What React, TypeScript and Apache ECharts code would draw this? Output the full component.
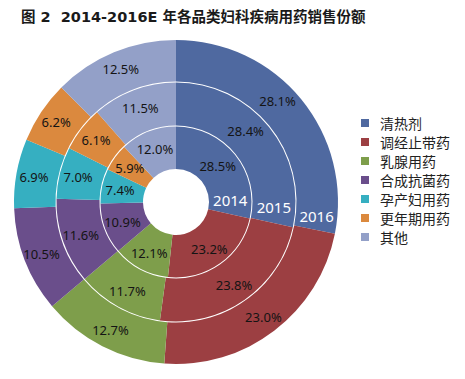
import React, { useEffect, useRef } from "react";
import * as echarts from "echarts";

const categories = ["清热剂", "调经止带药", "乳腺用药", "合成抗菌药", "孕产妇用药", "更年期用药", "其他"];
const years = ["2014", "2015", "2016"];
const values2014 = [28.5, 23.2, 12.1, 10.9, 7.4, 5.9, 12.0];
const values2015 = [28.4, 23.8, 11.7, 11.6, 7.0, 6.1, 11.5];
const values2016 = [28.1, 23.0, 12.7, 10.5, 6.9, 6.2, 12.5];
const colors = ["#4F69A0", "#9C3F42", "#7E9E4B", "#6A4E8B", "#36AFC1", "#DB893E", "#93A0C8"];

const CX = 176;
const CY = 202;
const radii: [number, number][] = [
  [33, 75.5],
  [76.5, 119.5],
  [120.5, 162],
];
const yearAngles = [2, -3, -5.7];
const firstOffsets: [number, number][] = [
  [-3, 0],
  [-9, -8],
  [-10, -9],
];

export default function App() {
  const ref = useRef<HTMLDivElement>(null);
  useEffect(() => {
    if (!ref.current) return;
    const chart = echarts.init(ref.current, null, { renderer: "svg" });
    const all = [values2014, values2015, values2016];
    const series = all.map((vals, si) => ({
      type: "pie",
      name: years[si],
      center: [CX, CY],
      radius: radii[si],
      startAngle: 90,
      clockwise: true,
      avoidLabelOverlap: false,
      silent: true,
      emphasis: { disabled: true },
      label: {
        show: true,
        position: "inside",
        formatter: (p: any) => p.value.toFixed(1) + "%",
        color: "#141414",
        fontSize: 13,
        fontFamily: "Noto Sans",
      },
      labelLine: { show: false },
      labelLayout: (p: any) =>
        p.dataIndex === 0 ? { dx: firstOffsets[si][0], dy: firstOffsets[si][1] } : {},
      itemStyle: { borderWidth: 0 },
      data: categories.map((c, i) => ({ name: c, value: vals[i] })),
    }));
    const graphics = years.map((y, i) => {
      const r = (radii[i][0] + radii[i][1]) / 2;
      const a = (yearAngles[i] * Math.PI) / 180;
      return {
        type: "text",
        z: 100,
        x: CX + r * Math.cos(a),
        y: CY - r * Math.sin(a),
        style: {
          text: y,
          fill: "#ffffff",
          fontSize: 15,
          fontFamily: "Noto Sans",
          align: "center",
          verticalAlign: "middle",
        },
      };
    });
    chart.setOption({
      animation: false,
      color: colors,
      title: {
        text: "图 2  2014-2016E 年各品类妇科疾病用药销售份额",
        left: 21,
        top: 9,
        padding: 0,
        textStyle: {
          fontSize: 14.5,
          fontWeight: "bold",
          color: "#1a1a1a",
          fontFamily: "'DejaVu Sans', 'Noto Sans CJK SC'",
          lineHeight: 16,
        },
      },
      legend: {
        orient: "vertical",
        left: 361,
        top: 116,
        padding: 0,
        itemWidth: 8,
        itemHeight: 8,
        itemGap: 5,
        icon: "rect",
        selectedMode: false,
        data: categories,
        textStyle: {
          fontSize: 14,
          lineHeight: 14,
          color: "#222",
          fontFamily: "Noto Sans CJK SC",
          padding: [0, 0, 0, 6],
        },
      },
      graphic: { elements: graphics },
      series,
    });
    return () => chart.dispose();
  }, []);
  return (
    <div
      ref={ref}
      style={{ position: "fixed", left: 0, top: 0, width: 465, height: 379, background: "#fff" }}
    />
  );
}
